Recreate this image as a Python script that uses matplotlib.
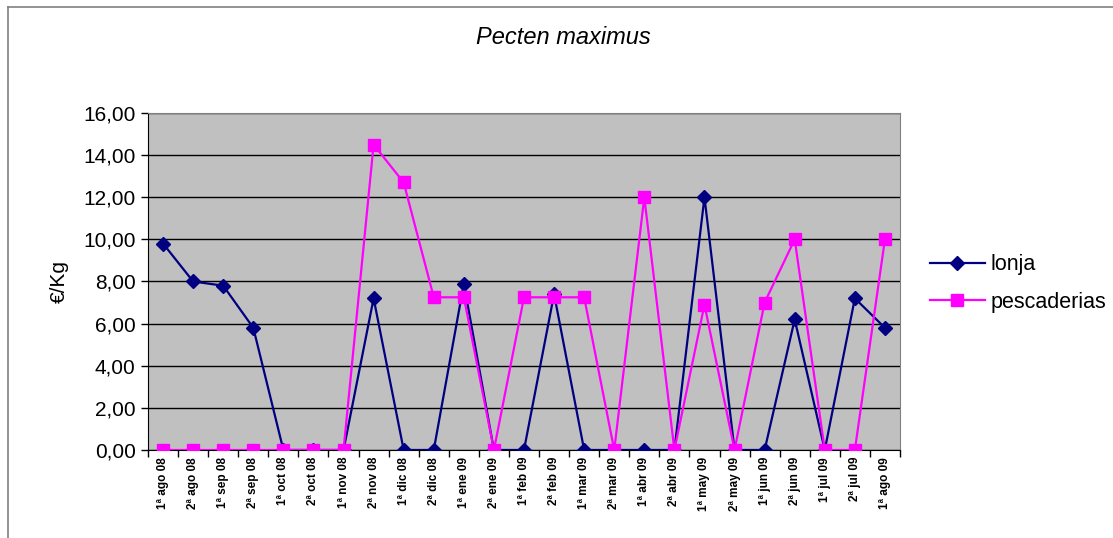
import matplotlib.pyplot as plt
from matplotlib.lines import Line2D
import numpy as np

plt.rcParams['font.family'] = ['Liberation Sans', 'DejaVu Sans']

quincenas = ['1ª ago 08', '2ª ago 08', '1ª sep 08', '2ª sep 08', '1ª oct 08',
             '2ª oct 08', '1ª nov 08', '2ª nov 08', '1ª dic 08', '2ª dic 08',
             '1ª ene 09', '2ª ene 09', '1ª feb 09', '2ª feb 09', '1ª mar 09',
             '2ª mar 09', '1ª abr 09', '2ª abr 09', '1ª may 09', '2ª may 09',
             '1ª jun 09', '2ª jun 09', '1ª jul 09', '2ª jul 09', '1ª ago 09']

lonja = [9.8, 8.0, 7.8, 5.8, 0, 0, 0, 7.2, 0, 0,
         7.9, 0, 0, 7.4, 0, 0, 0, 0, 12.0, 0,
         0, 6.2, 0, 7.2, 5.8]

pescaderias = [0, 0, 0, 0, 0, 0, 0, 14.5, 12.7, 7.25,
               7.25, 0, 7.25, 7.25, 7.25, 0, 12.0, 0, 6.9, 0,
               7.0, 10.0, 0, 0, 10.0]

yticks = np.arange(0, 17, 2)

fig = plt.figure(figsize=(11.13, 5.38), dpi=100)
ax = fig.add_axes([0.133, 0.1636, 0.6756, 0.6264])
ax.set_facecolor('#C0C0C0')

x = np.arange(len(quincenas))
ax.plot(x, lonja, color='#000080', lw=1.6, marker='D', ms=7.5,
        label='lonja', zorder=3)
ax.plot(x, pescaderias, color='#FF00FF', lw=1.6, marker='s', ms=8.5,
        label='pescaderias', zorder=3)

ax.set_xlim(-0.5, len(quincenas) - 0.5)
ax.set_ylim(0, 16)

# y axis, Excel style
ax.set_yticks(yticks)
ax.set_yticklabels(['%d,00' % v for v in yticks], fontsize=15)
ax.yaxis.grid(True, color='black', lw=1)
ax.set_axisbelow(True)
ax.tick_params(axis='y', length=5, width=1, pad=4)

# x axis: tick marks between categories, labels on the centres
ax.set_xticks(np.arange(-0.5, len(quincenas), 1))
ax.set_xticklabels([])
ax.tick_params(axis='x', which='major', length=5, width=1)
ax.set_xticks(x, minor=True)
ax.set_xticklabels(quincenas, minor=True, rotation=90, fontsize=8.5,
                   fontweight='bold', va='top')
ax.tick_params(axis='x', which='minor', length=0, pad=5)

ax.spines['left'].set_color('black')
ax.spines['bottom'].set_color('black')
ax.spines['top'].set_color('#808080')
ax.spines['right'].set_color('#808080')

ax.set_ylabel('€/Kg', fontsize=15, labelpad=10)
fig.text(0.506, 0.93, 'Pecten maximus', fontsize=17, style='italic',
         ha='center', va='center')

ax.legend(loc='center left', bbox_to_anchor=(0.8356, 0.473),
          bbox_transform=fig.transFigure, frameon=False, fontsize=15.5,
          handlelength=2.55, handletextpad=0.25, labelspacing=0.75,
          borderaxespad=0, borderpad=0)

# chart area frame (cropped at right and bottom)
fig.add_artist(Line2D([0.0072, 0.0072], [0.0, 0.987], color='#808080',
                      lw=1.2, transform=fig.transFigure))
fig.add_artist(Line2D([0.0072, 1.0], [0.987, 0.987], color='#808080',
                      lw=1.2, transform=fig.transFigure))

fig.savefig('out.png', dpi=100)
